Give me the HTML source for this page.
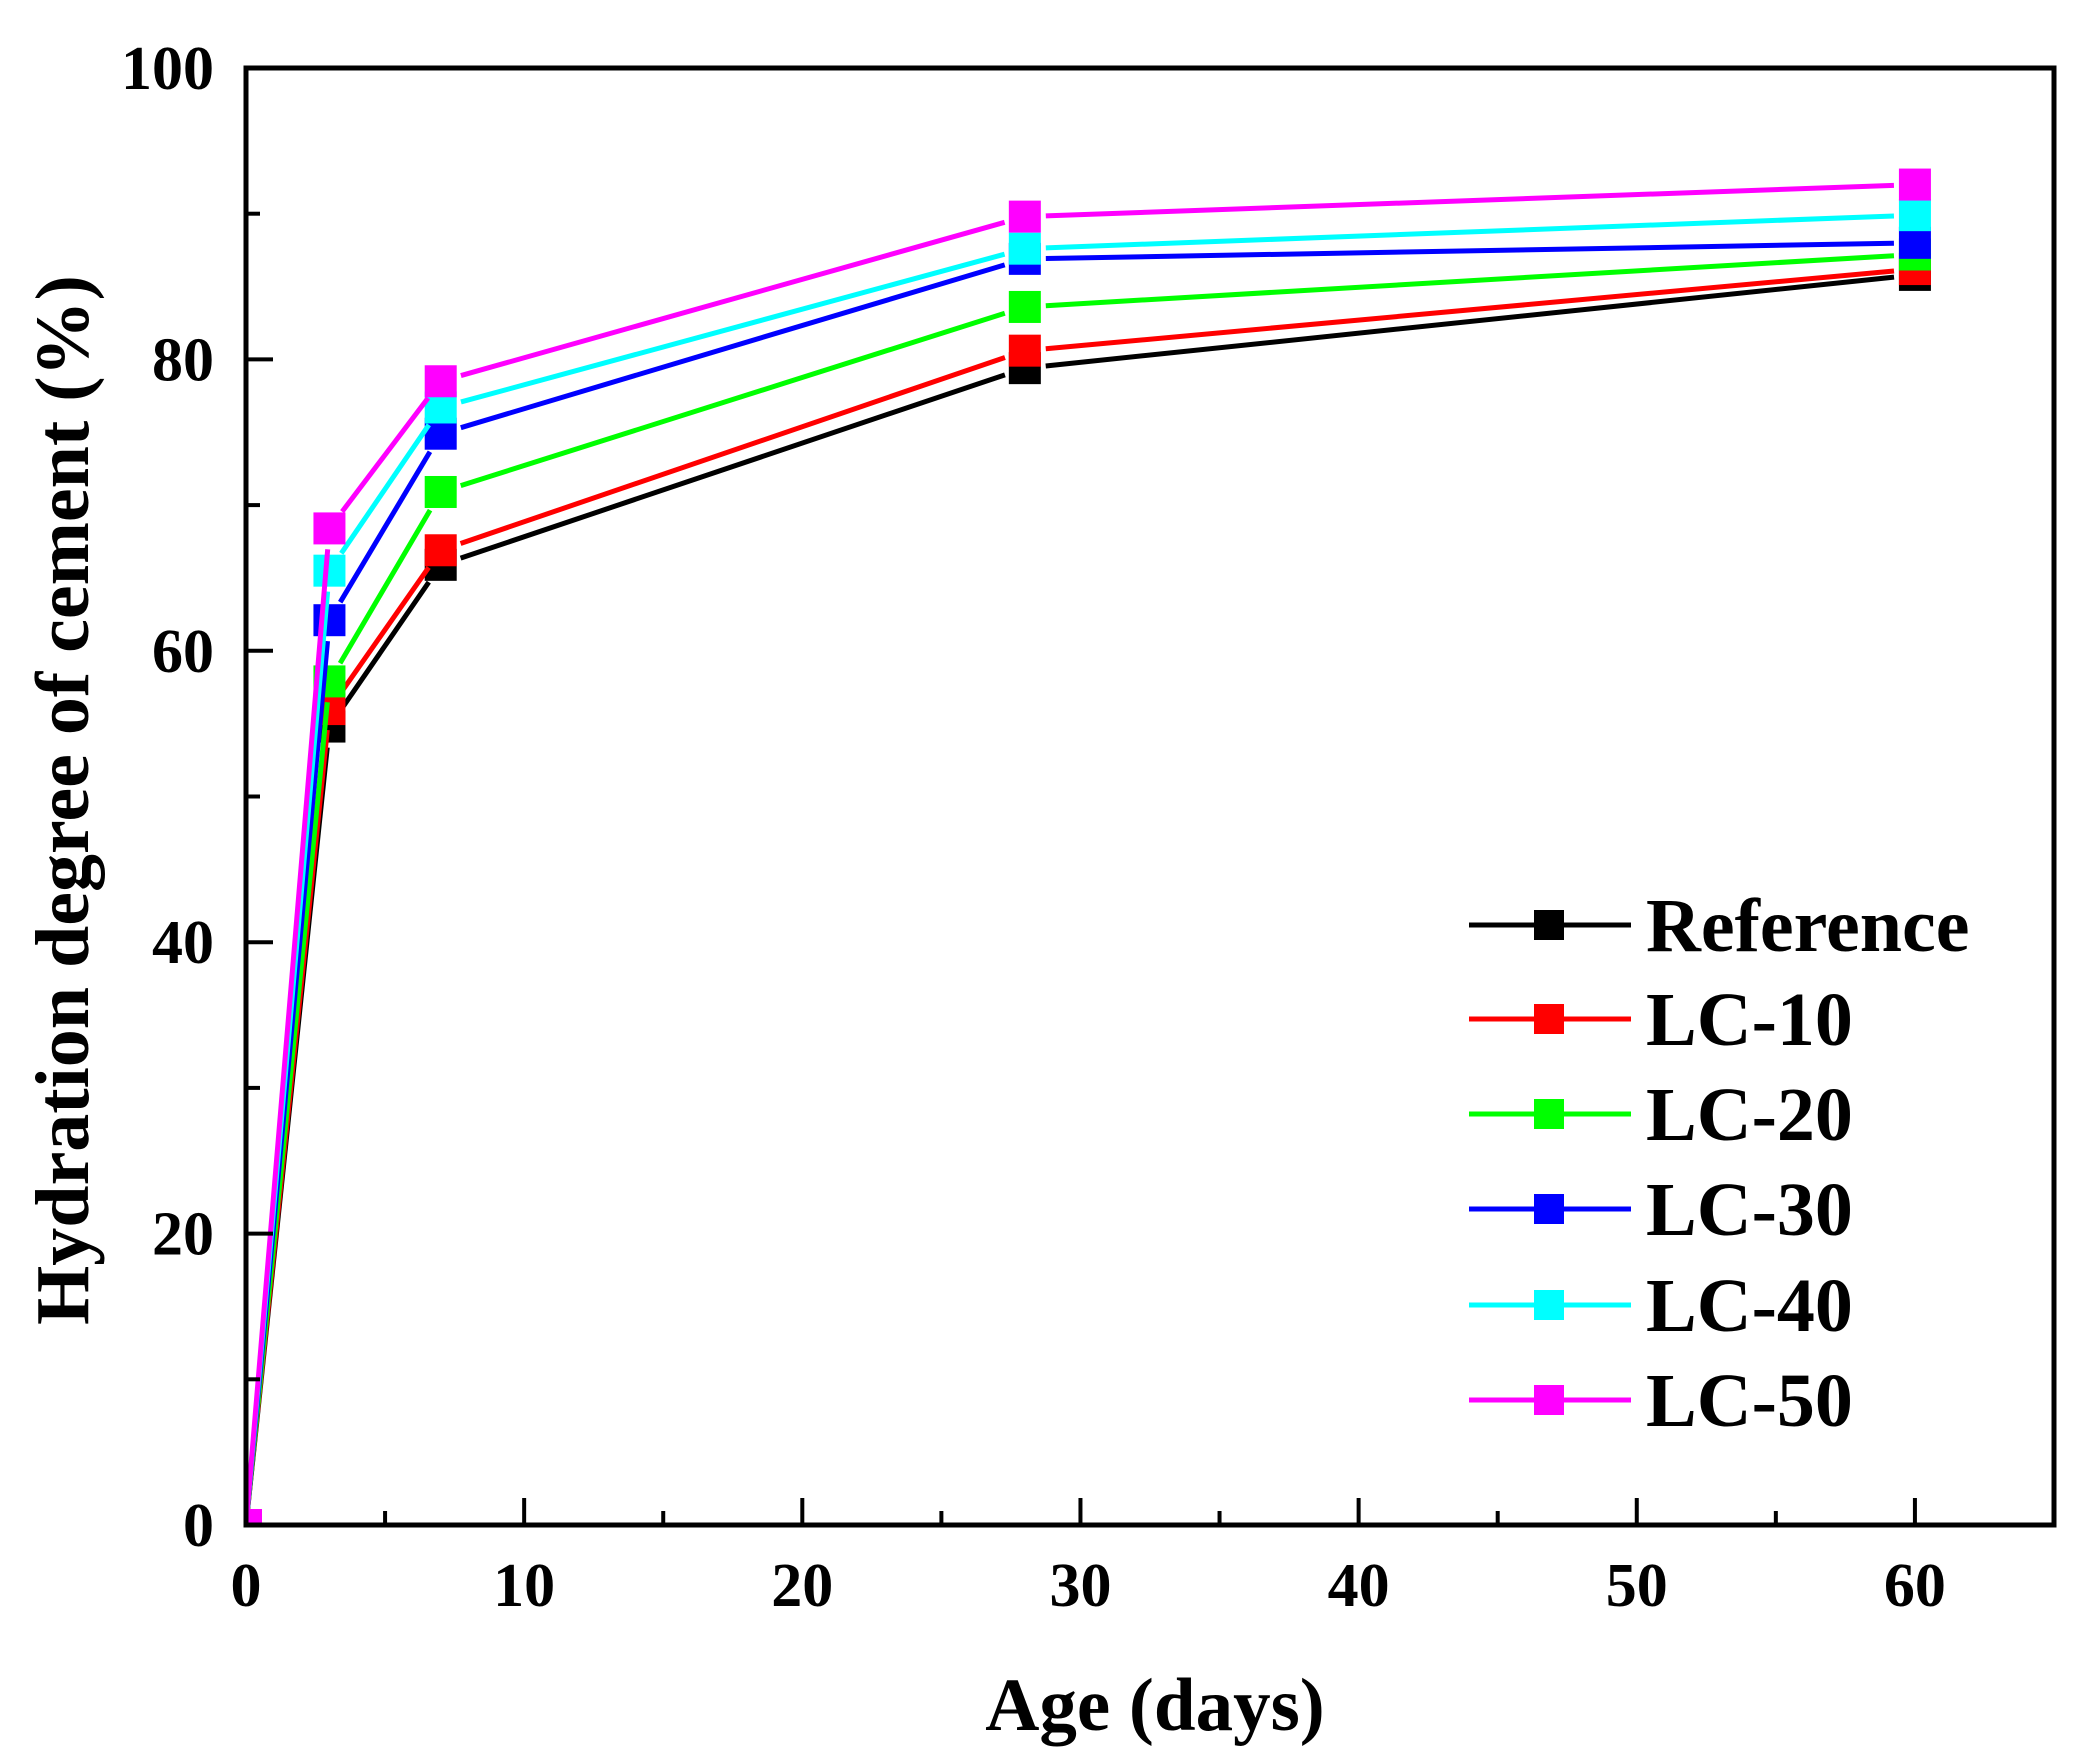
<!DOCTYPE html>
<html><head><meta charset="utf-8"><style>
html,body{margin:0;padding:0;background:#fff}
svg{display:block}
text{font-family:"Liberation Serif",serif;font-weight:bold;fill:#000}
</style></head><body>
<svg id="chart" width="2100" height="1760" viewBox="0 0 2100 1760">
<defs><clipPath id="pc"><rect x="246" y="68" width="1808" height="1457"/></clipPath></defs>
<g id="series" clip-path="url(#pc)"></g>
<g id="axes"></g>
<g id="legend"></g>
</svg>
<script>
const days = [0, 3, 7, 28, 60];
const seriesNames = ["Reference", "LC-10", "LC-20", "LC-30", "LC-40", "LC-50"];
const seriesColors = ["#000000", "#ff0000", "#00ff00", "#0000ff", "#00ffff", "#ff00ff"];
const refValues = [0, 54.8, 65.9, 79.4, 85.8];
const lc10Values = [0, 56.0, 66.9, 80.6, 86.2];
const lc20Values = [0, 57.9, 70.9, 83.6, 87.2];
const lc30Values = [0, 62.1, 74.9, 86.9, 88.0];
const lc40Values = [0, 65.5, 76.7, 87.6, 89.9];
const lc50Values = [0, 68.4, 78.5, 89.8, 92.0];
const xTicks = [0, 10, 20, 30, 40, 50, 60];
const xMinorTicks = [5, 15, 25, 35, 45, 55];
const yTicks = [0, 20, 40, 60, 80, 100];
const yMinorTicks = [10, 30, 50, 70, 90];
const allValues = [refValues, lc10Values, lc20Values, lc30Values, lc40Values, lc50Values];

const NS = "http://www.w3.org/2000/svg";
const L = 246, R = 2054, T = 68, B = 1525;
const xMax = 65, yMax = 100;
const xs = v => L + v / xMax * (R - L);
const ys = v => B - v / yMax * (B - T);
function mk(tag, attrs, parent) {
  const e = document.createElementNS(NS, tag);
  for (const k in attrs) e.setAttribute(k, attrs[k]);
  parent.appendChild(e);
  return e;
}
const gS = document.getElementById('series');
const gA = document.getElementById('axes');
const gL = document.getElementById('legend');
const M = 32, GAP = 21;

allValues.forEach((vals, si) => {
  const g = mk('g', {}, gS);
  
  
  for (let i = 0; i < days.length - 1; i++) {
    const x1 = xs(days[i]), y1 = ys(vals[i]), x2 = xs(days[i + 1]), y2 = ys(vals[i + 1]);
    const d = Math.hypot(x2 - x1, y2 - y1);
    const ux = (x2 - x1) / d, uy = (y2 - y1) / d;
    const s = i === 0 ? 0 : GAP;
    const ln = mk('line', {x1: x1 + ux * s, y1: y1 + uy * s, x2: x2 - ux * GAP, y2: y2 - uy * GAP, stroke: seriesColors[si], 'stroke-width': 5}, g);
    
    
  }
  vals.forEach((v, i) => {
    const r = mk('rect', {x: xs(days[i]) - M / 2, y: ys(v) - M / 2, width: M, height: M, fill: seriesColors[si]}, g);
    
    
  });
});

const fr = mk('rect', {x: L, y: T, width: R - L, height: B - T, fill: 'none', stroke: '#000', 'stroke-width': 5}, gA);


xTicks.forEach(v => {
  const t = mk('line', {x1: xs(v), x2: xs(v), y1: B, y2: B - 27, stroke: '#000', 'stroke-width': 4}, gA);
  
  
  const tx = mk('text', {x: xs(v), y: 1606, 'font-size': 62, 'text-anchor': 'middle'}, gA);
  
  
  tx.textContent = v;
});
xMinorTicks.forEach(v => {
  const t = mk('line', {x1: xs(v), x2: xs(v), y1: B, y2: B - 14, stroke: '#000', 'stroke-width': 4}, gA);
  
  
});
yTicks.forEach(v => {
  const t = mk('line', {x1: L, x2: L + 27, y1: ys(v), y2: ys(v), stroke: '#000', 'stroke-width': 4}, gA);
  
  
  const tx = mk('text', {x: 214, y: ys(v) + 21, 'font-size': 62, 'text-anchor': 'end'}, gA);
  
  
  tx.textContent = v;
});
yMinorTicks.forEach(v => {
  const t = mk('line', {x1: L, x2: L + 14, y1: ys(v), y2: ys(v), stroke: '#000', 'stroke-width': 4}, gA);
  
  
});
const xt = mk('text', {x: 1155, y: 1730, 'font-size': 75, 'text-anchor': 'middle'}, gA);


xt.textContent = 'Age (days)';
const yt = mk('text', {x: 0, y: 0, 'font-size': 76, 'text-anchor': 'middle', transform: 'translate(88,800) rotate(-90)'}, gA);


yt.textContent = 'Hydration degree of cement (%)';

const legY = [925, 1019, 1114, 1209, 1305, 1400];
seriesNames.forEach((n, i) => {
  const g = mk('g', {}, gL);
  
  
  mk('line', {x1: 1478 - 9, x2: 1636 - 5, y1: legY[i], y2: legY[i], stroke: seriesColors[i], 'stroke-width': 5}, g);
  mk('rect', {x: 1549 - 15, y: legY[i] - 15, width: 30, height: 30, fill: seriesColors[i]}, g);
  const t = mk('text', {x: 1646, y: legY[i] + 26, 'font-size': 76}, g);
  t.textContent = n;
});
</script>
</body></html>
